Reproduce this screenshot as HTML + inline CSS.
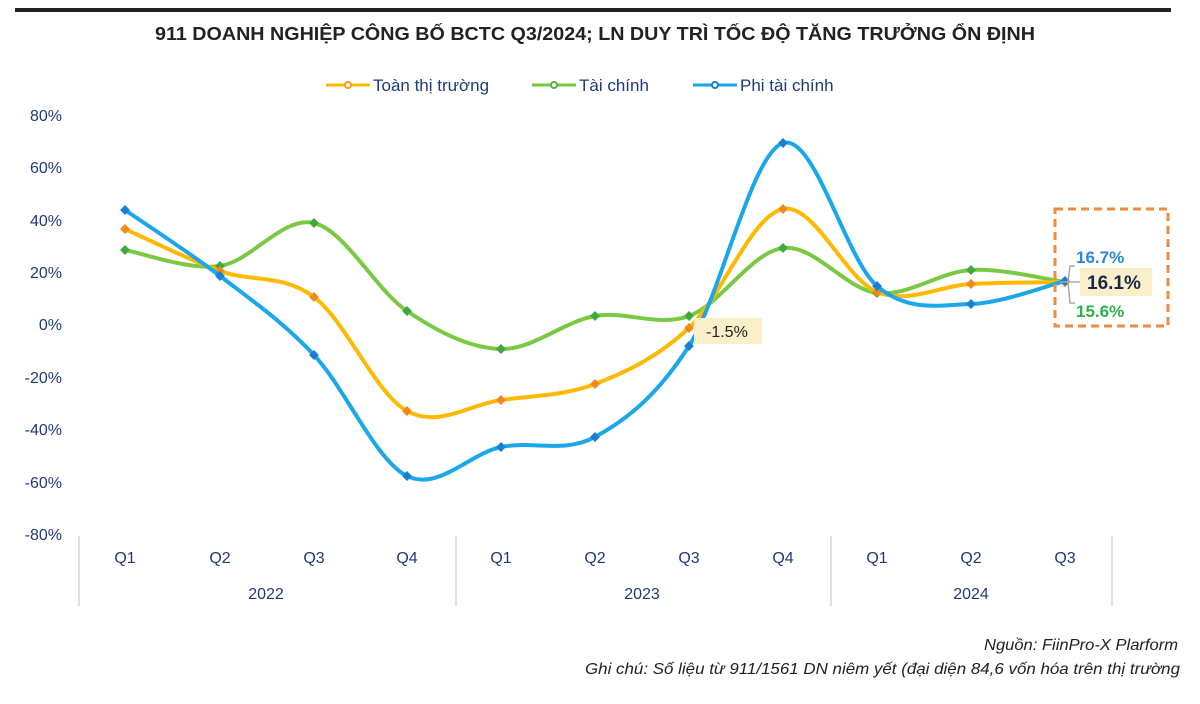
<!DOCTYPE html>
<html><head><meta charset="utf-8"><style>
body{margin:0;background:#fff;width:1200px;height:699px;overflow:hidden;font-family:"Liberation Sans",sans-serif}
</style></head><body>
<svg id="s" width="1200" height="699" xmlns="http://www.w3.org/2000/svg" font-family="Liberation Sans, sans-serif">
<rect x="15" y="8" width="1156" height="4" fill="#222"/>
<text x="155" y="40" textLength="880" lengthAdjust="spacingAndGlyphs" font-size="18" font-weight="bold" fill="#222">911 DOANH NGHIỆP CÔNG BỐ BCTC Q3/2024; LN DUY TRÌ TỐC ĐỘ TĂNG TRƯỞNG ỔN ĐỊNH</text>
<g font-size="17" fill="#1f3a7a">
<line x1="326" y1="85" x2="370" y2="85" stroke="#ffb900" stroke-width="3"/><circle cx="348" cy="85" r="3" fill="#fff" stroke="#f39c12" stroke-width="2"/>
<text x="373" y="91">Toàn thị trường</text>
<line x1="532" y1="85" x2="576" y2="85" stroke="#7ac943" stroke-width="3"/><circle cx="554" cy="85" r="3" fill="#fff" stroke="#4caf50" stroke-width="2"/>
<text x="579" y="91">Tài chính</text>
<line x1="693" y1="85" x2="737" y2="85" stroke="#1aa3e8" stroke-width="3"/><circle cx="715" cy="85" r="3" fill="#fff" stroke="#1a7fd0" stroke-width="2"/>
<text x="740" y="91">Phi tài chính</text>
</g>
<g font-size="16" fill="#1f3a7a" text-anchor="end">
<text x="62" y="121">80%</text><text x="62" y="173">60%</text><text x="62" y="226">40%</text><text x="62" y="278">20%</text><text x="62" y="330">0%</text><text x="62" y="383">-20%</text><text x="62" y="435">-40%</text><text x="62" y="488">-60%</text><text x="62" y="540">-80%</text>
</g>
<g stroke="#e0e0e0" stroke-width="2">
<line x1="79" y1="536" x2="79" y2="606"/><line x1="456" y1="536" x2="456" y2="606"/><line x1="831" y1="536" x2="831" y2="606"/><line x1="1112" y1="536" x2="1112" y2="606"/>
</g>
<g font-size="16" fill="#1f3a7a" text-anchor="middle" id="ql"></g>
<g font-size="16" fill="#1f3a7a" text-anchor="middle">
<text x="266" y="599">2022</text><text x="642" y="599">2023</text><text x="971" y="599">2024</text>
</g>
<g id="lines"></g>
<rect x="694" y="318" width="68" height="26" fill="#fbefc9"/>
<text x="706" y="337" font-size="16" fill="#222">-1.5%</text>
<rect x="1055" y="209" width="113" height="117" fill="none" stroke="#f08a3c" stroke-width="3" stroke-dasharray="8,5"/>
<path d="M1075 266 L1070 266 L1068 282 L1060 282 M1068 282 L1070 303 L1075 303 M1068 282 L1080 282" stroke="#aaa" stroke-width="1.5" fill="none"/>
<text x="1076" y="263" font-size="17" font-weight="bold" fill="#2f86d8">16.7%</text>
<rect x="1080" y="268" width="72" height="28" fill="#fbefc9"/>
<text x="1087" y="289" font-size="19" font-weight="bold" fill="#1a2a4a">16.1%</text>
<text x="1076" y="317" font-size="17" font-weight="bold" fill="#2db34a">15.6%</text>
<g font-size="16" font-style="italic" fill="#222">
<text x="984" y="650" textLength="194" lengthAdjust="spacingAndGlyphs">Nguồn: FiinPro-X Plarform</text>
<text x="585" y="674" textLength="595" lengthAdjust="spacingAndGlyphs">Ghi chú: Số liệu từ  911/1561 DN niêm yết (đại diện 84,6 vốn hóa trên thị trường</text>
</g>
</svg>
<script>
var X=[125,220,314,407,501,595,689,783,877,971,1065];
var ql=document.getElementById('ql'),ns='http://www.w3.org/2000/svg';
var Q=['Q1','Q2','Q3','Q4','Q1','Q2','Q3','Q4','Q1','Q2','Q3'];
X.forEach(function(x,i){var t=document.createElementNS(ns,'text');t.setAttribute('x',x);t.setAttribute('y',563);t.textContent=Q[i];ql.appendChild(t);});
var S=[
{c:'#7ac943',m:'#3fa83f',y:[250,266,223,311,349,316,316,248,293,270,282]},
{c:'#ffb900',m:'#f08a1c',y:[229,271,297,411,400,384,328,209,292,284,282]},
{c:'#1aa8ea',m:'#1a7fd0',y:[210,276,355,476,447,437,346,143,286,304,281]}];
var g=document.getElementById('lines');
S.forEach(function(s){
 var p=X.map(function(x,i){return [x,s.y[i]]});var d='M'+p[0][0]+' '+p[0][1];
 for(var i=0;i<p.length-1;i++){var p0=p[i-1]||p[i],p1=p[i],p2=p[i+1],p3=p[i+2]||p2,k=6;
  d+=' C'+(p1[0]+(p2[0]-p0[0])/k)+' '+(p1[1]+(p2[1]-p0[1])/k)+' '+(p2[0]-(p3[0]-p1[0])/k)+' '+(p2[1]-(p3[1]-p1[1])/k)+' '+p2[0]+' '+p2[1];}
 var pa=document.createElementNS(ns,'path');pa.setAttribute('d',d);pa.setAttribute('fill','none');pa.setAttribute('stroke',s.c);pa.setAttribute('stroke-width',4);g.appendChild(pa);
 p.forEach(function(q){var r=document.createElementNS(ns,'rect');r.setAttribute('x',q[0]-3.5);r.setAttribute('y',q[1]-3.5);r.setAttribute('width',7);r.setAttribute('height',7);r.setAttribute('fill',s.m);r.setAttribute('transform','rotate(45 '+q[0]+' '+q[1]+')');g.appendChild(r);});
});
</script>
</body></html>
